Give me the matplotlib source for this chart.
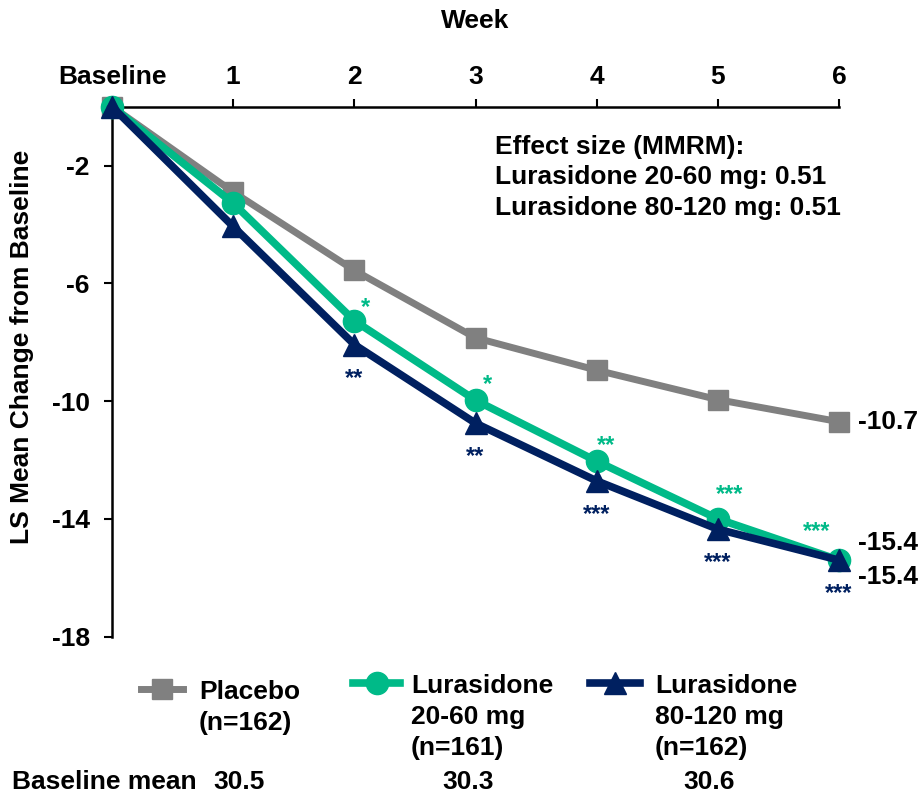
import matplotlib
matplotlib.use("Agg")
import matplotlib.pyplot as plt
from matplotlib.lines import Line2D

plt.rcParams['font.family'] = ['Liberation Sans', 'DejaVu Sans']
plt.rcParams['font.weight'] = 'bold'

weeks = [0, 1, 2, 3, 4, 5, 6]
week_labels = ["Baseline", "1", "2", "3", "4", "5", "6"]
placebo = [0, -2.9, -5.56, -7.85, -8.95, -9.95, -10.7]
luras_low = [0, -3.28, -7.27, -9.97, -12.04, -14.0, -15.4]
luras_high = [0, -4.07, -8.08, -10.75, -12.71, -14.35, -15.4]
yticks = [-2, -6, -10, -14, -18]
stars_low = ["", "", "*", "*", "**", "***", "***"]
stars_high = ["", "", "**", "**", "***", "***", "***"]
end_labels = ["-10.7", "-15.4", "-15.4"]
legend_labels = ["Placebo\n(n=162)", "Lurasidone\n20-60 mg\n(n=161)", "Lurasidone\n80-120 mg\n(n=162)"]
baseline_means = ["30.5", "30.3", "30.6"]
effect_text = "Effect size (MMRM):\nLurasidone 20-60 mg: 0.51\nLurasidone 80-120 mg: 0.51"

GRAY = "#808080"
GREEN = "#00BA88"
NAVY = "#002060"

W, H = 923, 794
fig = plt.figure(figsize=(W / 100, H / 100), dpi=100)
ax = fig.add_axes([112 / W, 1 - 636.7 / H, (839 - 112) / W, (636.7 - 106.6) / H])

ax.plot(weeks, placebo, color=GRAY, lw=5, marker='s', ms=14, clip_on=False, zorder=3)
ax.plot(weeks, luras_low, color=GREEN, lw=5.5, marker='o', ms=16, clip_on=False, zorder=4)
ax.plot(weeks, luras_high, color=NAVY, lw=5.5, marker='^', ms=16, clip_on=False, zorder=5)

ax.set_xlim(0, 6)
ax.set_ylim(-18, 0)
ax.xaxis.tick_top()
ax.set_xticks(weeks)
ax.set_xticklabels(week_labels, fontsize=19, fontweight='bold')
ax.set_yticks(yticks)
ax.set_yticklabels([str(v) for v in yticks], fontsize=19, fontweight='bold')
ax.tick_params(axis='x', direction='out', length=6, width=1.5, pad=7)
ax.tick_params(axis='y', direction='out', length=6, width=1.5, pad=10)
ax.xaxis.get_major_ticks()[0].tick2line.set_visible(False)
for s in ['bottom', 'right']:
    ax.spines[s].set_visible(False)
for s in ['top', 'left']:
    ax.spines[s].set_linewidth(1.8)

ax.set_xlabel("Week", fontsize=19, fontweight='bold', labelpad=26)
ax.xaxis.set_label_position('top')
ax.set_ylabel("LS Mean Change from Baseline", fontsize=19, fontweight='bold')
ax.yaxis.set_label_coords((34 - 112) / 727, (636.7 - 347) / 530.1)

# significance stars (offsets in points)
green_offsets = {2: (8, 5), 3: (8.5, 6.5), 4: (7, 6.5), 5: (8.5, 13), 6: (-16, 16)}
for x, y, s in zip(weeks, luras_low, stars_low):
    if s:
        ax.annotate(s, (x, y), xytext=green_offsets[x], textcoords='offset points',
                    ha='center', va='baseline', color=GREEN, fontsize=17, fontweight='bold',
                    annotation_clip=False)
for x, y, s in zip(weeks, luras_high, stars_high):
    if s:
        ax.annotate(s, (x, y), xytext=(0, -16), textcoords='offset points',
                    ha='center', va='top', color=NAVY, fontsize=17, fontweight='bold',
                    annotation_clip=False)

# end labels
ax.annotate(end_labels[0], (6, placebo[-1]), xytext=(14, 0), textcoords='offset points',
            ha='left', va='center', fontsize=19, fontweight='bold', annotation_clip=False)
ax.annotate(end_labels[1], (6, luras_low[-1]), xytext=(14, 12), textcoords='offset points',
            ha='left', va='center', fontsize=19, fontweight='bold', annotation_clip=False)
ax.annotate(end_labels[2], (6, luras_high[-1]), xytext=(14, -12), textcoords='offset points',
            ha='left', va='center', fontsize=19, fontweight='bold', annotation_clip=False)

fig.text(495 / W, 1 - 135 / H, effect_text, ha='left', va='top', fontsize=19,
         fontweight='bold', linespacing=1.33)

# legend
handles = [
    (141, 183, 689, GRAY, 's', 14, 5),
    (353, 400, 683, GREEN, 'o', 16, 5.5),
    (590, 640, 683, NAVY, '^', 16, 5.5),
]
text_x = [199, 411, 655]
for (x0, x1, y, c, m, ms, lw), tx, lab in zip(handles, text_x, legend_labels):
    yy = 1 - y / H
    fig.add_artist(Line2D([x0 / W, (x0 + x1) / 2 / W, x1 / W], [yy, yy, yy],
                          transform=fig.transFigure, color=c, lw=lw, marker=m,
                          ms=ms, markevery=[1]))
    fig.text(tx / W, 1 - (y - 9) / H, lab, ha='left', va='top', fontsize=19,
             fontweight='bold', linespacing=1.36)

fig.text(12 / W, 1 - 782 / H, "Baseline mean", ha='left', va='center', fontsize=19, fontweight='bold')
for bx, bm in zip([213, 442, 683], baseline_means):
    fig.text(bx / W, 1 - 782 / H, bm, ha='left', va='center', fontsize=19, fontweight='bold')

fig.savefig("out.png", dpi=100)
